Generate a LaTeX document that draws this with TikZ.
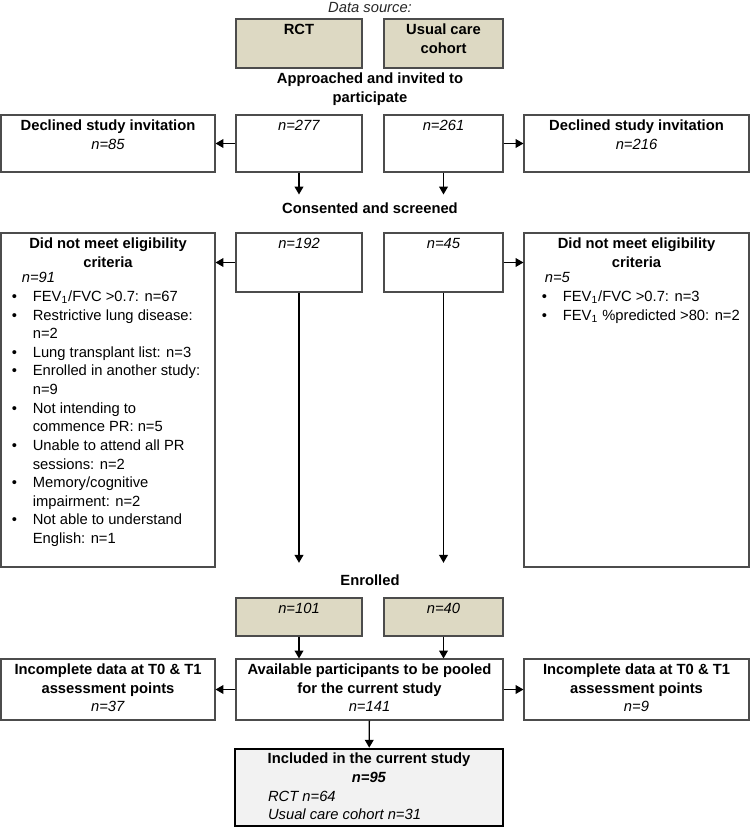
\documentclass[tikz,border=0pt]{standalone}
\usepackage{fontspec}
\setmainfont{Liberation Sans}
\usetikzlibrary{positioning,fit,arrows.meta}
\definecolor{srcfill}{HTML}{DDD9C3}
\definecolor{inclfill}{HTML}{F2F2F2}
\newlength\pxu
\setlength\pxu{0.02cm}
\newcommand\boxfont{\fontsize{8.4}{10.6}\selectfont}
\newcommand\itm{\makebox[21\pxu][l]{\textbullet}}
\newcommand\cnt{\hspace*{21\pxu}}
\tikzset{
  box/.style={draw=black!70, line width=0.6pt, inner sep=0pt},
  src/.style={box, fill=srcfill},
  txt/.style={inner sep=0pt, align=center, font=\boxfont},
  lbl/.style={anchor=north, inner xsep=0pt, inner ysep=1.5pt, align=center, font=\boxfont},
  lst/.style={anchor=north west, inner sep=0pt, align=left, font=\boxfont},
  arr/.style={-{Triangle[length=4.5pt,width=5pt]}, line width=0.75pt},
}
\begin{document}
\begin{tikzpicture}[x=0.02cm,y=-0.02cm]
\useasboundingbox (0,0) rectangle (750,828);
% data sources
\node[txt, text=black!85] (srct) at (370,7) {\textit{Data source:}};
\node[src, fit={(236,19) (362,68)}] (rct) {};
\node[src, fit={(384,19) (503,68)}] (ucc) {};
\node[lbl] (rctt) at (rct.north) {\strut\textbf{RCT}};
\node[lbl] (ucct) at (ucc.north) {\strut\textbf{Usual care}\\\textbf{cohort}};
\node[txt, anchor=north] (appr) at (370,70) {\strut\textbf{Approached and invited to}\\\textbf{participate}};
% approached
\node[box, fit={(1,115) (215,172)}] (decl1) {};
\node[box, fit={(236,115) (362,172)}] (n277) {};
\node[box, fit={(384,115) (503,172)}] (n261) {};
\node[box, fit={(524,115) (749,172)}] (decl2) {};
\node[lbl] (decl1t) at (decl1.north) {\strut\textbf{Declined study invitation}\\\textit{n=85}};
\node[lbl] (n277t) at (n277.north) {\strut\textit{n=277}};
\node[lbl] (n261t) at (n261.north) {\strut\textit{n=261}};
\node[lbl] (decl2t) at (decl2.north) {\strut\textbf{Declined study invitation}\\\textit{n=216}};
\draw[arr] (n277) -- (decl1);
\draw[arr] (n261) -- (decl2);
\node[txt] (cons) at (370,208) {\textbf{Consented and screened}};
\draw[arr, shorten >=4.4pt] (n277) -- (n277 |- cons.north);
\draw[arr, shorten >=4.4pt] (n261) -- (n261 |- cons.north);
% screened
\node[box, fit={(1,233) (215,567)}] (elig1) {};
\node[box, fit={(236,233) (362,292)}] (n192) {};
\node[box, fit={(384,233) (503,292)}] (n45) {};
\node[box, fit={(524,233) (749,567)}] (elig2) {};
\node[lbl] (n192t) at (n192.north) {\strut\textit{n=192}};
\node[lbl] (n45t) at (n45.north) {\strut\textit{n=45}};
\node[lbl] (elig1h) at (elig1.north) {\strut\textbf{Did not meet eligibility}\\\textbf{criteria}};
\node[lst] (elig1l) at ([shift={(11,37)}]elig1.north west) {\strut\hspace*{10\pxu}\textit{n=91}\\
  \itm FEV\textsubscript{1}/FVC >0.7: n=67\\
  \itm Restrictive lung disease:\\
  \cnt n=2\\
  \itm Lung transplant list: n=3\\
  \itm Enrolled in another study:\\
  \cnt n=9\\
  \itm Not intending to\\
  \cnt commence PR: n=5\\
  \itm Unable to attend all PR\\
  \cnt sessions: n=2\\
  \itm Memory/cognitive\\
  \cnt impairment: n=2\\
  \itm Not able to understand\\
  \cnt English: n=1};
\node[lbl] (elig2h) at (elig2.north) {\strut\textbf{Did not meet eligibility}\\\textbf{criteria}};
\node[lst] (elig2l) at ([shift={(18,37)}]elig2.north west) {\strut\hspace*{3\pxu}\textit{n=5}\\
  \itm FEV\textsubscript{1}/FVC >0.7: n=3\\
  \itm FEV\textsubscript{1} \%predicted >80: n=2};
\draw[arr] (n192.west) -- (n192.west -| elig1.east);
\draw[arr] (n45.east) -- (n45.east -| elig2.west);
\node[txt] (enr) at (370,580) {\textbf{Enrolled}};
\draw[arr, shorten >=6.5pt] (n192) -- (n192 |- enr.north);
\draw[arr, shorten >=6.5pt] (n45) -- (n45 |- enr.north);
% enrolled
\node[src, fit={(236,598) (362,636)}] (n101) {};
\node[src, fit={(384,598) (503,636)}] (n40) {};
\node[lbl] (n101t) at (n101.north) {\strut\textit{n=101}};
\node[lbl] (n40t) at (n40.north) {\strut\textit{n=40}};
\node[box, fit={(1,659) (215,720)}] (inc1) {};
\node[box, fit={(236,659) (503,720)}] (avail) {};
\node[box, fit={(524,659) (749,720)}] (inc2) {};
\node[lbl] (inc1t) at (inc1.north) {\strut\textbf{Incomplete data at T0 \& T1}\\\textbf{assessment points}\\\textit{n=37}};
\node[lbl] (availt) at (avail.north) {\strut\textbf{Available participants to be pooled}\\\textbf{for the current study}\\\textit{n=141}};
\node[lbl] (inc2t) at (inc2.north) {\strut\textbf{Incomplete data at T0 \& T1}\\\textbf{assessment points}\\\textit{n=9}};
\draw[arr] (n101) -- (n101 |- avail.north);
\draw[arr] (n40) -- (n40 |- avail.north);
\draw[arr] (avail) -- (inc1);
\draw[arr] (avail) -- (inc2);
% included
\node[box, draw=black, line width=1.5pt, fill=inclfill, fit={(235,749) (503,826)}] (incl) {};
\node[lbl] (inclh) at (incl.north) {\strut\textbf{Included in the current study}\\\textbf{\textit{n=95}}};
\node[lst] (incll) at ([shift={(34,40)}]incl.north west) {\strut\textit{RCT n=64}\\\textit{Usual care cohort n=31}};
\draw[arr] (avail) -- (incl);
\end{tikzpicture}
\end{document}
